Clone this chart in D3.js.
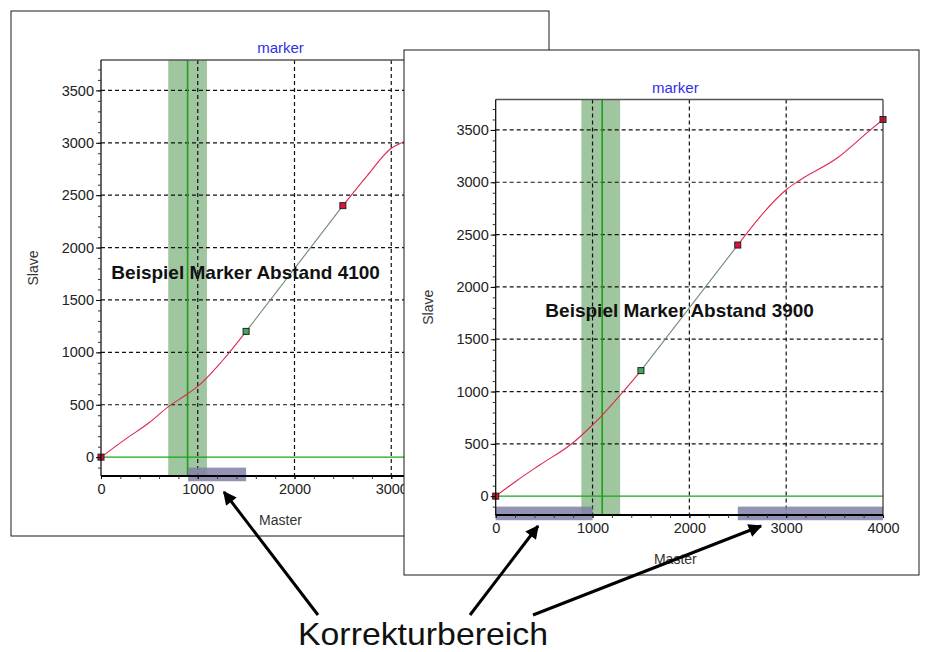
<!DOCTYPE html>
<html><head><meta charset="utf-8">
<script src="https://cdn.jsdelivr.net/npm/d3@7"></script>
<style>body{margin:0;background:#fff}svg{display:block}text{font-family:"Liberation Sans",Arial,sans-serif}</style>
</head><body><svg id="c" width="932" height="652"></svg>
<script>
// ---------- data ----------
const xTicks = [0, 1000, 2000, 3000, 4000];
const yTicks = [0, 500, 1000, 1500, 2000, 2500, 3000, 3500];
const xMinorStep = 200, yMinorStep = 100;
const xDomain = [0, 4000];
const yDomain = [-180, 3790];
const chartTitle = "marker";
const xLabel = "Master";
const yLabel = "Slave";
const calloutText = "Korrekturbereich";

// chart A : "Beispiel Marker Abstand 4100"
const titleA = "Beispiel Marker Abstand 4100";
const curveA1Master = [0, 250, 500, 700, 885, 1000, 1250, 1500];
const curveA1Slave  = [0, 170, 330, 484, 598, 675, 915, 1200];
const lineAMaster   = [1500, 2500];
const lineASlave    = [1200, 2400];
const curveA2Master = [2500, 2750, 3000, 3130, 3500, 3870, 4000];
const curveA2Slave  = [2400, 2685, 2948, 3011, 3230, 3500, 3600];
const markA_Master  = [0, 1500, 2500, 4000];
const markA_Slave   = [0, 1200, 2400, 3600];
const markA_Kind    = ["end", "mid", "end", "end"];
const bandA = [695, 1095];
const markerPosA = 895;
const corrA = [[900, 1500]];

// chart B : "Beispiel Marker Abstand 3900"
const titleB = "Beispiel Marker Abstand 3900";
const curveB1Master = [0, 217, 458, 802, 978, 1104, 1318, 1500];
const curveB1Slave  = [0, 148, 300, 513, 661, 778, 1000, 1200];
const lineBMaster   = [1500, 2500];
const lineBSlave    = [1200, 2400];
const curveB2Master = [2500, 2730, 3006, 3144, 3523, 3867, 4000];
const curveB2Slave  = [2400, 2670, 2933, 3022, 3229, 3499, 3600];
const markB_Master  = [0, 1500, 2500, 4000];
const markB_Slave   = [0, 1200, 2400, 3600];
const markB_Kind    = ["end", "mid", "end", "end"];
const bandB = [885, 1285];
const markerPosB = 1100;
const corrB = [[0, 1000], [2500, 4000]];

const corrSlave = [-100, -230];   // vertical extent of correction bars

// ---------- layout ----------
const svg = d3.select("#c");
const FONT = '"Liberation Sans",Arial,sans-serif';

const zip = (a, b) => a.map((v, i) => [v, b[i]]);

function drawWindow(win, plot, d, visibleRight) {
  const g = svg.append("g");
  g.append("rect").attr("x", win.x).attr("y", win.y).attr("width", win.w).attr("height", win.h)
    .attr("fill", "#fff").attr("stroke", "#1a1a1a").attr("stroke-width", 1);

  const x = d3.scaleLinear().domain(xDomain).range([plot.x0, plot.x1]);
  const y = d3.scaleLinear().domain(yDomain).range([plot.y1, plot.y0]);

  // band
  g.append("rect").attr("x", x(d.band[0])).attr("y", plot.y0)
    .attr("width", x(d.band[1]) - x(d.band[0])).attr("height", plot.y1 - plot.y0)
    .attr("fill", "#8fbc8f").attr("opacity", 0.85);

  // grid
  const grid = g.append("g").attr("stroke", "#111").attr("stroke-width", 1.2).attr("stroke-dasharray", "4,3");
  grid.selectAll("line.h").data(yTicks.filter(v => v !== 0)).join("line")
    .attr("x1", plot.x0).attr("x2", plot.x1).attr("y1", v => y(v)).attr("y2", v => y(v));
  grid.selectAll("line.v").data(xTicks.filter(v => v > xDomain[0] && v < xDomain[1])).join("line")
    .attr("class", "v")
    .attr("y1", plot.y0).attr("y2", plot.y1).attr("x1", v => x(v)).attr("x2", v => x(v));

  // zero line and marker line
  g.append("line").attr("x1", plot.x0).attr("x2", plot.x1).attr("y1", y(0)).attr("y2", y(0))
    .attr("stroke", "#1aa51a").attr("stroke-width", 1.3);
  g.append("line").attr("x1", x(d.markerPos)).attr("x2", x(d.markerPos)).attr("y1", plot.y0).attr("y2", plot.y1)
    .attr("stroke", "#1d9e1d").attr("stroke-width", 1.6);

  // curve
  const line = d3.line().x(p => x(p[0])).y(p => y(p[1])).curve(d3.curveMonotoneX);
  g.append("path").attr("d", line(d.c1)).attr("fill", "none").attr("stroke", "#e0284e").attr("stroke-width", 1.1);
  g.append("path").attr("d", d3.line().x(p => x(p[0])).y(p => y(p[1]))(d.lin)).attr("fill", "none")
    .attr("stroke", "#6f8a72").attr("stroke-width", 1.1);
  g.append("path").attr("d", line(d.c2)).attr("fill", "none").attr("stroke", "#e0284e").attr("stroke-width", 1.1);

  // markers
  g.selectAll("rect.m").data(d.marks).join("rect").attr("class", "m")
    .attr("x", m => x(m[0]) - 3).attr("y", m => y(m[1]) - 3).attr("width", 6).attr("height", 6)
    .attr("fill", m => m[2] === "mid" ? "#3fa862" : "#e0103c").attr("stroke", "#222").attr("stroke-width", 1);

  // correction bars
  g.selectAll("rect.k").data(d.corr).join("rect").attr("class", "k")
    .attr("x", c => x(c[0])).attr("width", c => x(c[1]) - x(c[0]))
    .attr("y", y(corrSlave[0])).attr("height", y(corrSlave[1]) - y(corrSlave[0]))
    .attr("fill", "#8080a8").attr("opacity", 0.85);

  // frame
  g.append("line").attr("x1", plot.x0).attr("x2", plot.x1).attr("y1", plot.y0).attr("y2", plot.y0)
    .attr("stroke", "#555").attr("stroke-width", 1.5);
  g.append("line").attr("x1", plot.x1).attr("x2", plot.x1).attr("y1", plot.y0).attr("y2", plot.y1)
    .attr("stroke", "#333").attr("stroke-width", 1.2);
  g.append("line").attr("x1", plot.x0).attr("x2", plot.x0).attr("y1", plot.y0).attr("y2", plot.y1)
    .attr("stroke", "#000").attr("stroke-width", 1.2);
  g.append("line").attr("x1", plot.x0).attr("x2", plot.x1).attr("y1", plot.y1).attr("y2", plot.y1)
    .attr("stroke", "#000").attr("stroke-width", 2.2);

  // axes
  const yMinor = d3.range(Math.ceil(yDomain[0] / yMinorStep) * yMinorStep, yDomain[1], yMinorStep);
  const xMinor = d3.range(xDomain[0], xDomain[1] + 1, xMinorStep);
  const ax = g.append("g").attr("transform", `translate(${plot.x0},0)`)
    .call(d3.axisLeft(y).tickValues(yMinor).tickSize(3).tickFormat(""));
  ax.select(".domain").remove(); ax.selectAll("line").attr("stroke", "#333");
  const ay = g.append("g").attr("transform", `translate(${plot.x0},0)`)
    .call(d3.axisLeft(y).tickValues(yTicks).tickSize(5).tickPadding(2).tickFormat(d3.format("d")));
  ay.select(".domain").remove();
  ay.selectAll("text").attr("font-family", FONT).attr("font-size", 14.5).attr("fill", "#222");
  const bx = g.append("g").attr("transform", `translate(0,${plot.y1})`)
    .call(d3.axisBottom(x).tickValues(xMinor).tickSize(3).tickFormat(""));
  bx.select(".domain").remove(); bx.selectAll("line").attr("stroke", "#333");
  // only labels that are not hidden under the overlapping window
  const shownX = xTicks.filter(v => x(v) < visibleRight);
  const bxl = g.append("g").attr("transform", `translate(0,${plot.y1})`)
    .call(d3.axisBottom(x).tickValues(shownX).tickSize(3).tickPadding(5).tickFormat(d3.format("d")));
  bxl.select(".domain").remove();
  bxl.selectAll("text").attr("font-family", FONT).attr("font-size", 14.5).attr("fill", "#222");

  // labels
  g.append("text").attr("x", (plot.x0 + plot.x1) / 2 - 14).attr("y", plot.y0 - 7).attr("text-anchor", "middle")
    .attr("font-size", 15).attr("fill", "#3030e8").text(chartTitle);
  g.append("text").attr("x", (plot.x0 + plot.x1) / 2 - 14).attr("y", plot.y1 + 49).attr("text-anchor", "middle")
    .attr("font-size", 14).attr("fill", "#333").text(xLabel);
  g.append("text").attr("transform", `translate(${plot.x0 - 63},${(plot.y0 + plot.y1) / 2}) rotate(-90)`)
    .attr("text-anchor", "middle").attr("font-size", 14).attr("fill", "#333").text(yLabel);
  g.append("text").attr("x", x(d.titlePos[0])).attr("y", y(d.titlePos[1])).attr("text-anchor", "middle")
    .attr("font-size", 19).attr("font-weight", "bold").attr("fill", "#111").text(d.title);
}

drawWindow({x: 11, y: 11, w: 538, h: 525}, {x0: 101, x1: 488, y0: 60, y1: 476}, {
  band: bandA, markerPos: markerPosA,
  c1: zip(curveA1Master, curveA1Slave), lin: zip(lineAMaster, lineASlave), c2: zip(curveA2Master, curveA2Slave),
  marks: markA_Master.map((v, i) => [v, markA_Slave[i], markA_Kind[i]]),
  corr: corrA, title: titleA, titlePos: [1495, 1700]
}, 404);
drawWindow({x: 404, y: 50, w: 515, h: 525}, {x0: 495.7, x1: 883, y0: 99.6, y1: 515}, {
  band: bandB, markerPos: markerPosB,
  c1: zip(curveB1Master, curveB1Slave), lin: zip(lineBMaster, lineBSlave), c2: zip(curveB2Master, curveB2Slave),
  marks: markB_Master.map((v, i) => [v, markB_Slave[i], markB_Kind[i]]),
  corr: corrB, title: titleB, titlePos: [1900, 1710]
}, 932);

// ---------- callout ----------
const defs = svg.append("defs");
defs.append("marker").attr("id", "ah").attr("viewBox", "0 0 10 10").attr("refX", 9).attr("refY", 5)
  .attr("markerWidth", 5.5).attr("markerHeight", 4.5).attr("orient", "auto").attr("markerUnits", "strokeWidth")
  .append("path").attr("d", "M0,0 L10,5 L0,10 Z").attr("fill", "#000");
const arrows = [
  {x1: 318, y1: 615, x2: 224, y2: 492},
  {x1: 470, y1: 615, x2: 538, y2: 526},
  {x1: 533, y1: 615, x2: 761, y2: 526}
];
svg.selectAll("line.arr").data(arrows).join("line").attr("class", "arr")
  .attr("x1", a => a.x1).attr("y1", a => a.y1).attr("x2", a => a.x2).attr("y2", a => a.y2)
  .attr("stroke", "#000").attr("stroke-width", 3).attr("marker-end", "url(#ah)");
svg.append("text").attr("x", 423).attr("y", 645).attr("text-anchor", "middle")
  .attr("font-size", 32).attr("textLength", 250).attr("lengthAdjust", "spacingAndGlyphs")
  .attr("fill", "#111").text(calloutText);
</script></body></html>
